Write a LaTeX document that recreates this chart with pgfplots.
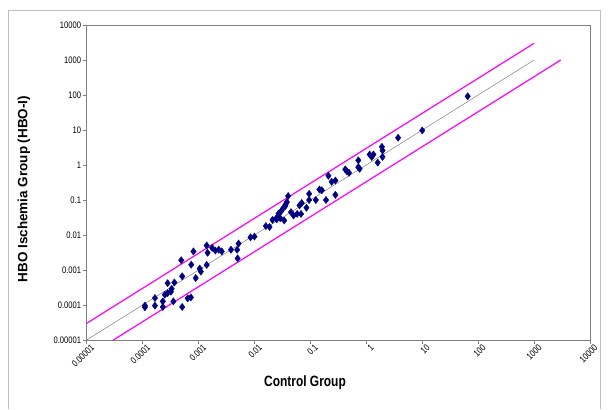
\documentclass[border=0pt]{standalone}
\usepackage{pgfplots}
\pgfplotsset{compat=1.18}
\usepackage{fontspec}
\setmainfont{Liberation Sans}
\newfontfamily\condensed{Liberation Sans}[FakeStretch=0.8]
\definecolor{navyc}{HTML}{000080}
\definecolor{magc}{HTML}{FF00FF}
\begin{document}
\begin{tikzpicture}[x=1bp,y=1bp]
\path (0,0) rectangle (608,409);
\draw[gray!50, line width=0.8bp] (8,0) -- (8,399) -- (600,399) -- (600,0);
\begin{axis}[
  at={(86.7bp,69bp)}, anchor=south west, scale only axis,
  width=503.3bp, height=315bp,
  xmode=log, ymode=log,
  xmin=1e-5, xmax=1e4, ymin=1e-5, ymax=1e4,
  axis line style={gray, line width=0.7bp},
  tick style={gray, line width=0.6bp},
  tick align=outside, major tick length=4bp,
  xminorticks=false, yminorticks=false,
  xtick pos=bottom, ytick pos=left,
  xtick={1e-5,1e-4,1e-3,1e-2,1e-1,1,10,100,1000,10000},
  xticklabels={0.00001,0.0001,0.001,0.01,0.1,1,10,100,1000,10000},
  ytick={1e-5,1e-4,1e-3,1e-2,1e-1,1,10,100,1000,10000},
  yticklabels={0.00001,0.0001,0.001,0.01,0.1,1,10,100,1000,10000},
  x tick label style={rotate=45, anchor=north east, xshift=4bp, yshift=-1bp, font=\condensed\fontsize{9.5}{10}\selectfont, inner sep=1bp},
  y tick label style={font=\condensed\fontsize{9.5}{10}\selectfont, inner sep=1.5bp},
]
\addplot[gray, line width=0.5bp] coordinates {(1e-5,1e-5) (1000,1000)};
\addplot[magc, line width=1.2bp] coordinates {(1e-5,3e-5) (1000,3000)};
\addplot[magc, line width=1.2bp] coordinates {(3e-5,1e-5) (3000,1000)};
\addplot[only marks, mark=diamond*, mark size=3.6bp, color=navyc, mark options={fill=navyc, draw=navyc}] coordinates {
(1.1e-4,9.6e-5) (1.1e-4,8.6e-5) (1.66e-4,1.58e-4) (1.66e-4,9.6e-5)
(2.3e-4,1.27e-4) (2.3e-4,8.8e-5) (2.5e-4,1.97e-4) (2.8e-4,2.2e-4)
(2.8e-4,4.2e-4) (3.2e-4,2.4e-4) (3.3e-4,2.9e-4) (3.55e-4,1.27e-4)
(3.7e-4,4.4e-4) (4.9e-4,1.9e-3) (5.1e-4,6.6e-4) (5.1e-4,8.8e-5)
(6.4e-4,1.55e-4) (7.3e-4,1.65e-4) (7.4e-4,1.42e-3) (8.1e-4,3.4e-3)
(8.9e-4,5.9e-4) (1.05e-3,1.1e-3) (1.1e-3,9e-4) (1.4e-3,5e-3)
(1.4e-3,1.4e-3) (1.45e-3,3.1e-3) (1.75e-3,4.3e-3) (2.0e-3,3.6e-3)
(2.3e-3,3.8e-3) (2.6e-3,3.4e-3) (3.8e-3,3.8e-3) (4.9e-3,3.8e-3)
(5.0e-3,2.15e-3) (5.2e-3,5.7e-3) (8.5e-3,8.6e-3) (0.01,9e-3)
(0.016,0.018) (0.0186,0.017) (0.021,0.027) (0.0245,0.03)
(0.025,0.028) (0.027,0.041) (0.029,0.03) (0.03,0.048)
(0.032,0.056) (0.034,0.026) (0.035,0.065) (0.036,0.075)
(0.038,0.087) (0.04,0.13) (0.045,0.045) (0.05,0.036)
(0.058,0.04) (0.064,0.07) (0.07,0.082) (0.068,0.04)
(0.085,0.06) (0.095,0.15) (0.095,0.1) (0.125,0.1)
(0.145,0.2) (0.16,0.19) (0.19,0.1) (0.21,0.49)
(0.24,0.33) (0.28,0.36) (0.28,0.14) (0.42,0.75)
(0.45,0.66) (0.49,0.6) (0.72,1.36) (0.72,0.87)
(0.76,0.78) (1.15,2.0) (1.25,1.7) (1.34,2.0)
(1.6,1.17) (1.9,3.3) (1.95,2.6) (1.95,1.7)
(3.7,6.0) (10,9.7) (65,92)
};
\end{axis}
\node[rotate=90, font=\bfseries\fontsize{13.5}{15}\selectfont] at (24,220) {HBO Ischemia Group (HBO-I)};
\node[font=\condensed\bfseries\fontsize{15}{17}\selectfont] at (305,26) {Control Group};
\end{tikzpicture}
\end{document}
